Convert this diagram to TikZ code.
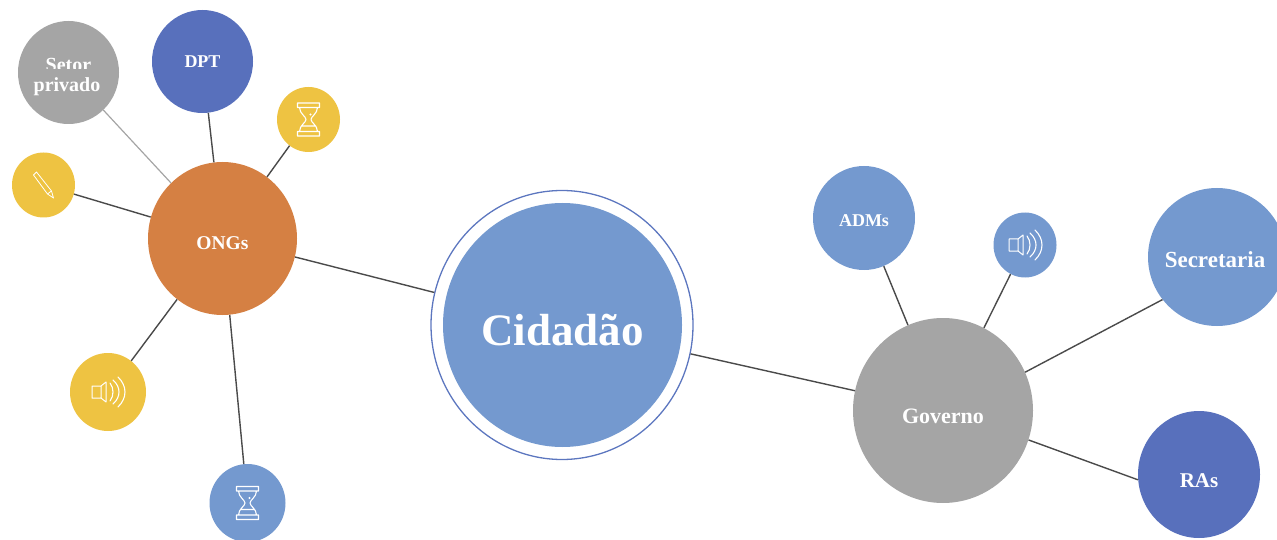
\documentclass[tikz,border=0pt]{standalone}
\usepackage{fontspec}
\usetikzlibrary{shapes.geometric}
\setmainfont{Liberation Serif}
\definecolor{cblue}{HTML}{7499CF}
\definecolor{cdark}{HTML}{5870BC}
\definecolor{corange}{HTML}{D58043}
\definecolor{cgray}{HTML}{A5A5A5}
\definecolor{cyellow}{HTML}{EEC342}
\definecolor{cedge}{HTML}{4A4A4A}
\newcommand{\cutline}[1]{\smash{{\setlength{\fboxsep}{0pt}\colorbox{cgray}{\rule{0pt}{22.5pt}#1}}}}
\tikzset{
  bub/.style={ellipse,inner sep=0pt,text=white,align=center,draw=none},
  link/.style={draw=cedge,line width=1.4pt},
  hourglassicon/.pic={
    \draw[white,line width=1.1pt,line join=round]
      (-11,-16.5) rectangle (11,-12)
      (-11,12) rectangle (11,16.5)
      (-9,-12) .. controls (-9,-6) and (-2.5,-3) .. (-2.5,0) .. controls (-2.5,3) and (-9,6) .. (-9,12)
      (9,-12) .. controls (9,-6) and (2.5,-3) .. (2.5,0) .. controls (2.5,3) and (9,6) .. (9,12)
      (-7.5,6.5) -- (7.5,6.5);
    \fill[white] (2,-5) circle (1.2pt);
  },
  speakericon/.pic={
    \draw[white,line width=1pt,line join=round]
      (-16,-6) -- (-7,-6) -- (-2,-10) -- (-2,10) -- (-7,6) -- (-16,6) -- cycle
      (-7,-6) -- (-7,6);
    \draw[white,line width=1.1pt,line cap=round]
      (2,-9) .. controls (6,-4) and (6,4) .. (2,9)
      (5,-12) .. controls (13,-5) and (13,5) .. (5,12)
      (10,-15) .. controls (19.3,-6) and (19.3,6) .. (10,15);
  },
  pencilicon/.pic={
    \draw[white,line width=.8pt,line join=round]
      (-10,-10) -- (-7,-13) -- (8,6) -- (10,13) -- (4,9) -- cycle
      (4,9) -- (8,6);
  }
}
\begin{document}
\begin{tikzpicture}[x=1pt,y=-1pt]
\useasboundingbox (0,0) rectangle (1277,540);
% nodes
\node[ellipse,minimum width=262pt,minimum height=269pt,inner sep=0pt,draw=cdark!85!cblue,line width=1.3pt] (ring) at (562,325) {};
\node[bub,fill=cblue,minimum width=239pt,minimum height=244pt,text height=40pt,text depth=0pt,font=\bfseries\fontsize{45}{50}\selectfont] (cid) at (562.5,325) {Cidadão};
\node[bub,fill=corange,minimum width=149pt,minimum height=153pt,text height=23pt,text depth=0pt,font=\bfseries\fontsize{19.5}{22}\selectfont] (ongs) at (222.5,238.5) {ONGs};
\node[bub,fill=cgray,minimum width=101pt,minimum height=103pt,font=\bfseries\fontsize{20}{20}\selectfont] (setor) at (68.5,72.5) {\rule{0pt}{19pt}Setor\hspace{3pt}\\\cutline{privado\hspace{3pt}}};
\node[bub,fill=cdark,minimum width=101pt,minimum height=103pt,text height=13pt,text depth=0pt,font=\bfseries\fontsize{18}{22}\selectfont] (dpt) at (202.5,61.5) {DPT};
\node[bub,fill=cyellow,minimum width=63pt,minimum height=65pt] (hy) at (308.5,119.5) {};
\node[bub,fill=cyellow,minimum width=63pt,minimum height=65pt] (pen) at (43.5,185) {};
\node[bub,fill=cyellow,minimum width=76pt,minimum height=78pt] (sy) at (108,392) {};
\node[bub,fill=cblue,minimum width=76pt,minimum height=78pt] (hb) at (247.5,503) {};
\node[bub,fill=cgray,minimum width=180pt,minimum height=185pt,text height=25pt,text depth=0pt,font=\bfseries\fontsize{22}{24}\selectfont] (gov) at (943,410.5) {Governo};
\node[bub,fill=cblue,minimum width=102pt,minimum height=104pt,text height=18pt,text depth=0pt,font=\bfseries\fontsize{18}{22}\selectfont] (adm) at (864,218) {ADMs};
\node[bub,fill=cblue,minimum width=63pt,minimum height=65pt] (sb) at (1025,245) {};
\node[bub,fill=cblue,minimum width=138pt,minimum height=138pt,text height=20pt,text depth=0pt,font=\bfseries\fontsize{23}{24}\selectfont] (sec) at (1217,257) {\makebox[0pt]{Secretaria\hspace{4pt}}};
\node[bub,fill=cdark,minimum width=122pt,minimum height=127pt,text height=25pt,text depth=0pt,font=\bfseries\fontsize{21}{24}\selectfont] (ras) at (1199,474.5) {RAs};
% icons
\pic at (hy) {hourglassicon};
\pic at (hb) {hourglassicon};
\pic at (pen) {pencilicon};
\pic at (sy) {speakericon};
\pic at (sb) {speakericon};
% connectors
\draw[link] (ongs) -- (ring);
\draw[link] (ring) -- (gov);
\draw[link,draw=cgray,line width=1.2pt] (setor) -- (ongs);
\draw[link] (dpt) -- (ongs);
\draw[link] (hy) -- (ongs);
\draw[link] (pen) -- (ongs);
\draw[link] (sy) -- (ongs);
\draw[link] (hb) -- (ongs);
\draw[link] (adm) -- (gov);
\draw[link] (sb) -- (gov);
\draw[link] (sec.218) -- (gov.25);
\draw[link] (gov.-19) -- (ras.185);
\end{tikzpicture}
\end{document}
